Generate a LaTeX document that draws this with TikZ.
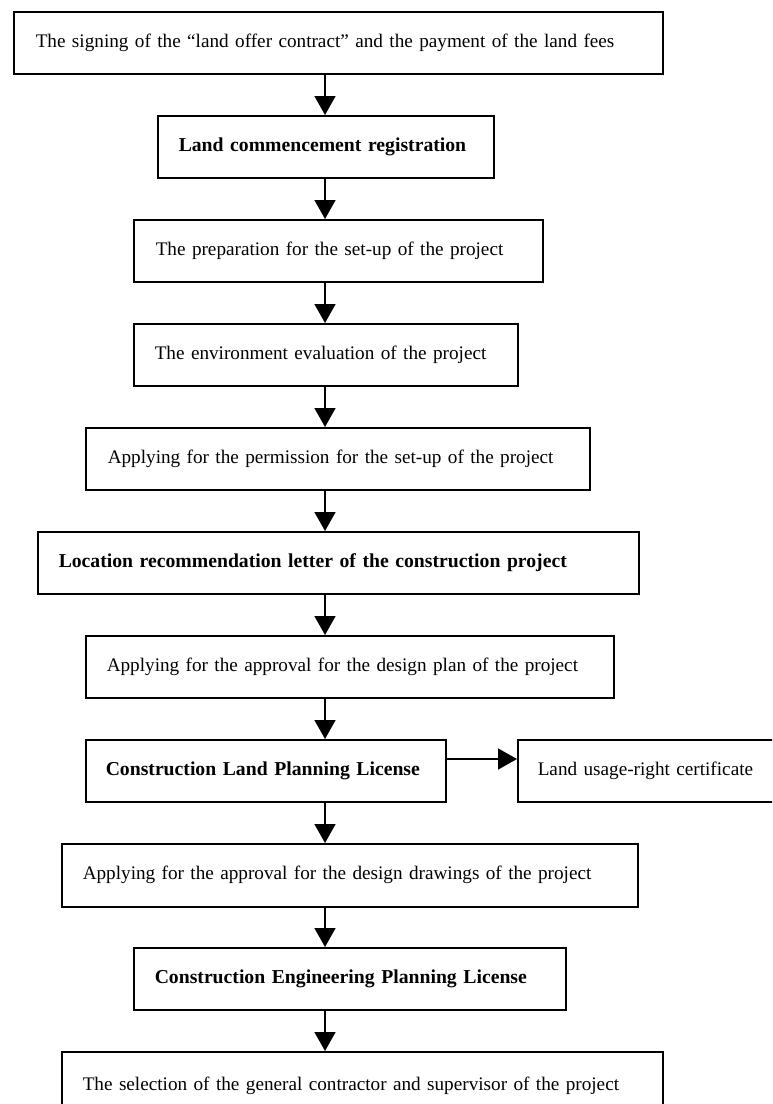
\documentclass[tikz,border=0pt]{standalone}
\usepackage{fontspec}
\setmainfont{Liberation Serif}
\usetikzlibrary{arrows.meta}
\newcommand\mkbox[8]{%
  \node[#1,minimum width={(#5-#3)*1pt},minimum height={(#6-#4)*1pt},
        text width={(#5-#3)*1pt},anchor=north west] (#2) at (#3,#4)
        {\hspace*{\dimexpr #7pt-#3pt\relax}\mbox{#8}};}
\begin{document}
\begin{tikzpicture}[x=1pt,y=-1pt,
  box/.style={draw,line width=1.5pt,rectangle,inner sep=0pt,align=left,
    font=\fontsize{19.2}{21}\selectfont,text height=13pt,text depth=4pt},
  bbox/.style={box,font=\fontsize{19.7}{21}\selectfont\bfseries},
  arr/.style={line width=1.5pt,-{Triangle[length=19pt,width=21pt]}}]
\useasboundingbox (0,0) rectangle (772,1104);
\clip (0,0) rectangle (772,1104);
\fill[white] (0,0) rectangle (772,1104);

\mkbox{box}{b1}{13}{11}{662}{73}{35}{The signing of the “land offer contract” and the payment of the land fees}
\mkbox{bbox}{b2}{157}{115}{493}{177}{178}{Land commencement registration}
\mkbox{box}{b3}{133}{219}{542}{281}{155}{The preparation for the set-up of the project}
\mkbox{box}{b4}{133}{323}{517}{385}{154}{The environment evaluation of the project}
\mkbox{box}{b5}{85}{427}{589}{489}{107}{Applying for the permission for the set-up of the project}
\mkbox{bbox}{b6}{37}{531}{638}{593}{58}{Location recommendation letter of the construction project}
\mkbox{box}{b7}{85}{635}{613}{697}{106}{Applying for the approval for the design plan of the project}
\mkbox{bbox}{b8}{85}{739}{445}{801}{105}{Construction Land Planning License}
\mkbox{box}{b9}{517}{739}{800}{801}{537}{Land usage-right certificate}
\mkbox{box}{b10}{61}{843}{637}{906}{82}{Applying for the approval for the design drawings of the project}
\mkbox{bbox}{b11}{133}{947}{565}{1009}{154}{Construction Engineering Planning License}
\mkbox{box}{b12}{61}{1051}{662}{1119}{82}{The selection of the general contractor and supervisor of the project}

\coordinate (ax) at (325,0);
\coordinate (ay) at (0,759);
\draw[arr] (b1.south -| ax) -- (b2.north -| ax);
\draw[arr] (b2.south -| ax) -- (b3.north -| ax);
\draw[arr] (b3.south -| ax) -- (b4.north -| ax);
\draw[arr] (b4.south -| ax) -- (b5.north -| ax);
\draw[arr] (b5.south -| ax) -- (b6.north -| ax);
\draw[arr] (b6.south -| ax) -- (b7.north -| ax);
\draw[arr] (b7.south -| ax) -- (b8.north -| ax);
\draw[arr] (b8.east |- ay) -- (b9.west |- ay);
\draw[arr] (b8.south -| ax) -- (b10.north -| ax);
\draw[arr] (b10.south -| ax) -- (b11.north -| ax);
\draw[arr] (b11.south -| ax) -- (b12.north -| ax);
\end{tikzpicture}
\end{document}
